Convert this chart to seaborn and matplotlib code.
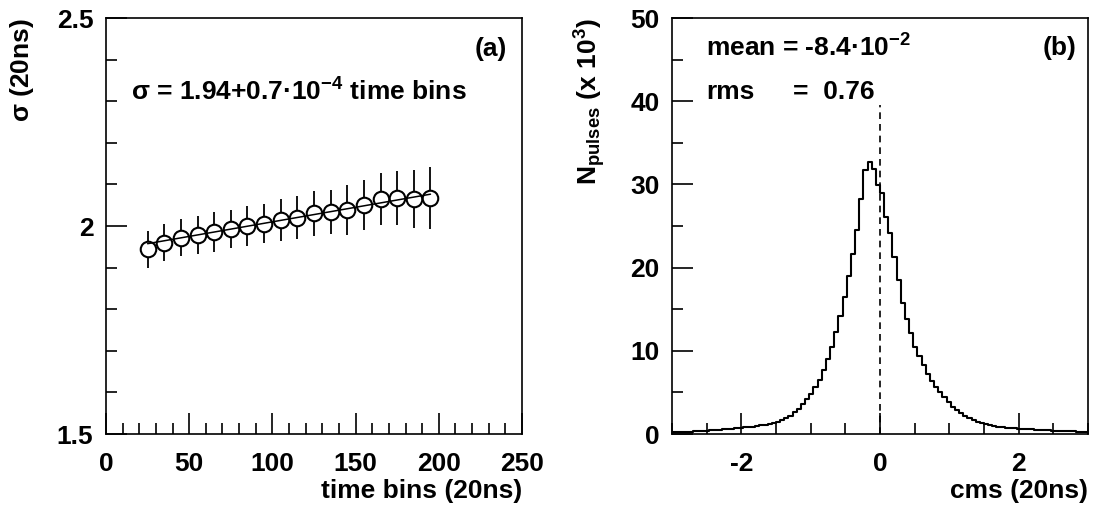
import numpy as np
import pandas as pd
import seaborn as sns
import matplotlib.pyplot as plt
from matplotlib.ticker import MultipleLocator

# panel (a): sigma vs time bins
time_bins = [25, 35, 45, 55, 65, 75, 85, 95, 105, 115, 125, 135, 145, 155, 165, 175, 185, 195]
sigma = [1.944, 1.960, 1.972, 1.978, 1.986, 1.992, 2.000, 2.005, 2.014, 2.020,
         2.031, 2.034, 2.039, 2.050, 2.065, 2.068, 2.065, 2.068]
sigma_err = [0.044, 0.044, 0.045, 0.045, 0.048, 0.046, 0.048, 0.047, 0.050, 0.051,
             0.054, 0.053, 0.060, 0.060, 0.0625, 0.065, 0.070, 0.0745]
fit_intercept = 1.94
fit_slope = 0.0007

# panel (b): cms histogram, 100 bins from -3 to 3 (counts x 10^3)
cms_range = (-3, 3)
cms_binwidth = 0.06
cms_counts = [0.22, 0.24, 0.26, 0.28, 0.30, 0.33, 0.36, 0.39, 0.42, 0.45,
              0.48, 0.52, 0.56, 0.60, 0.65, 0.70, 0.75, 0.80, 0.85, 0.90,
              0.95, 1.03, 1.12, 1.22, 1.35,
              1.5, 1.7, 1.9, 2.2, 2.6, 3.0, 3.6, 4.2, 4.8, 5.6, 6.5, 7.7, 9.0,
              10.4, 12.2, 14.2, 16.5,
              19.0, 21.6, 24.5, 28.2, 31.7, 32.7, 31.85, 29.9, 29.0, 26.1, 24.2, 21.3, 18.5,
              15.7, 13.8, 12.1, 10.4, 9.4, 8.3, 7.2, 6.4, 5.6, 5.0, 4.4, 3.85, 3.3, 2.9,
              2.5, 2.2, 1.96, 1.7, 1.5, 1.3, 1.16, 1.04, 0.95, 0.87, 0.8,
              0.76, 0.72, 0.68, 0.65, 0.62, 0.58, 0.55, 0.52, 0.49, 0.46,
              0.44, 0.42, 0.40, 0.38, 0.36, 0.34, 0.32, 0.30, 0.28, 0.26]
cms_mean_line = 0.0
mean_line_top = 39.5

sns.set_theme(style="white")
plt.rcParams['font.family'] = ['Liberation Sans', 'DejaVu Sans']
plt.rcParams['font.weight'] = 'bold'
plt.rcParams['text.color'] = 'black'
plt.rcParams['xtick.color'] = 'black'
plt.rcParams['ytick.color'] = 'black'
plt.rcParams['axes.unicode_minus'] = False
plt.rcParams['mathtext.fontset'] = 'custom'
plt.rcParams['mathtext.rm'] = 'Liberation Sans:bold'
plt.rcParams['mathtext.bf'] = 'Liberation Sans:bold'
plt.rcParams['mathtext.it'] = 'Liberation Sans:bold'
plt.rcParams['mathtext.sf'] = 'Liberation Sans'

W, H = 1095, 521
fig = plt.figure(figsize=(W / 100, H / 100), dpi=100)
ax1 = fig.add_axes([106 / W, (H - 434) / H, 416 / W, 416 / H])
ax2 = fig.add_axes([672 / W, (H - 434) / H, 416 / W, 416 / H])

FS = 19

def style(ax):
    for s in ax.spines.values():
        s.set_color('black')
        s.set_linewidth(1.2)
    ax.tick_params(which='both', direction='in', width=1.2, colors='black',
                   bottom=True, left=True, top=False, right=False)
    ax.tick_params(which='major', length=15, labelsize=FS, pad=9)
    ax.tick_params(which='minor', length=8)
    ax.tick_params(axis='x', which='major', pad=13)
    for lab in ax.get_xticklabels() + ax.get_yticklabels():
        lab.set_fontweight('bold')
    ax.set_xlabel('')
    ax.set_ylabel('')

# ---- panel (a)
df_a = pd.DataFrame({'t': time_bins, 'sigma': sigma, 'err': sigma_err})
ax1.errorbar(df_a['t'], df_a['sigma'], yerr=df_a['err'], fmt='none', ecolor='black',
             elinewidth=1.3, capsize=0, zorder=2)
sns.scatterplot(data=df_a, x='t', y='sigma', ax=ax1, s=125, marker='o',
                facecolor='white', edgecolor='black', linewidth=1.5, zorder=3)
fit_x = np.array([min(time_bins), max(time_bins)])
ax1.plot(fit_x, fit_intercept + fit_slope * fit_x, color='black', lw=1.1, zorder=4)
ax1.set_xlim(0, 250)
ax1.set_ylim(1.5, 2.5)
ax1.xaxis.set_major_locator(MultipleLocator(50))
ax1.xaxis.set_minor_locator(MultipleLocator(10))
ax1.yaxis.set_minor_locator(MultipleLocator(0.1))
ax1.set_yticks([1.5, 2, 2.5], ['1.5', '2', '2.5'])
style(ax1)

fig.text(507 / W, 1 - 49 / H, '(a)', ha='right', va='center', fontsize=FS, fontweight='bold')
fig.text(131 / W, 1 - 92 / H, r'$\mathsf{σ}$ = 1.94+0.7·10$^{-4}$ time bins',
         ha='left', va='center', fontsize=FS, fontweight='bold')
fig.text(22 / W, 1 - 18 / H, r'$\mathsf{σ}$ (20ns)', rotation=90, ha='center', va='top',
         fontsize=FS, fontweight='bold')
fig.text(522 / W, 1 - 491 / H, 'time bins (20ns)', ha='right', va='center',
         fontsize=FS, fontweight='bold')

# ---- panel (b)
n_bins = len(cms_counts)
centers = cms_range[0] + cms_binwidth * (np.arange(n_bins) + 0.5)
df_b = pd.DataFrame({'cms': centers, 'n': cms_counts})
sns.histplot(data=df_b, x='cms', weights='n', binwidth=cms_binwidth, binrange=cms_range,
             element='step', fill=False, color='black', linewidth=1.5, ax=ax2)
ax2.plot([cms_mean_line, cms_mean_line], [0, mean_line_top], color='black', lw=1.2,
         ls=(0, (4, 3)))
ax2.set_xlim(-3, 3)
ax2.set_ylim(0, 50)
ax2.xaxis.set_major_locator(MultipleLocator(2))
ax2.xaxis.set_minor_locator(MultipleLocator(0.5))
ax2.yaxis.set_major_locator(MultipleLocator(10))
ax2.yaxis.set_minor_locator(MultipleLocator(5))
style(ax2)

fig.text(706 / W, 1 - 48 / H, r'mean = -8.4·10$^{-2}$', ha='left', va='center',
         fontsize=FS, fontweight='bold')
fig.text(706 / W, 1 - 92 / H, 'rms', ha='left', va='center', fontsize=FS, fontweight='bold')
fig.text(793 / W, 1 - 92 / H, '=  0.76', ha='left', va='center', fontsize=FS, fontweight='bold')
fig.text(1076 / W, 1 - 48 / H, '(b)', ha='right', va='center', fontsize=FS, fontweight='bold')
fig.text(590 / W, 1 - 18 / H, r'N$_{pulses}$ (x 10$^{3}$)', rotation=90, ha='center',
         va='top', fontsize=FS, fontweight='bold')
fig.text(1088 / W, 1 - 491 / H, 'cms (20ns)', ha='right', va='center',
         fontsize=FS, fontweight='bold')

fig.savefig('out.png', dpi=100, facecolor='white')
